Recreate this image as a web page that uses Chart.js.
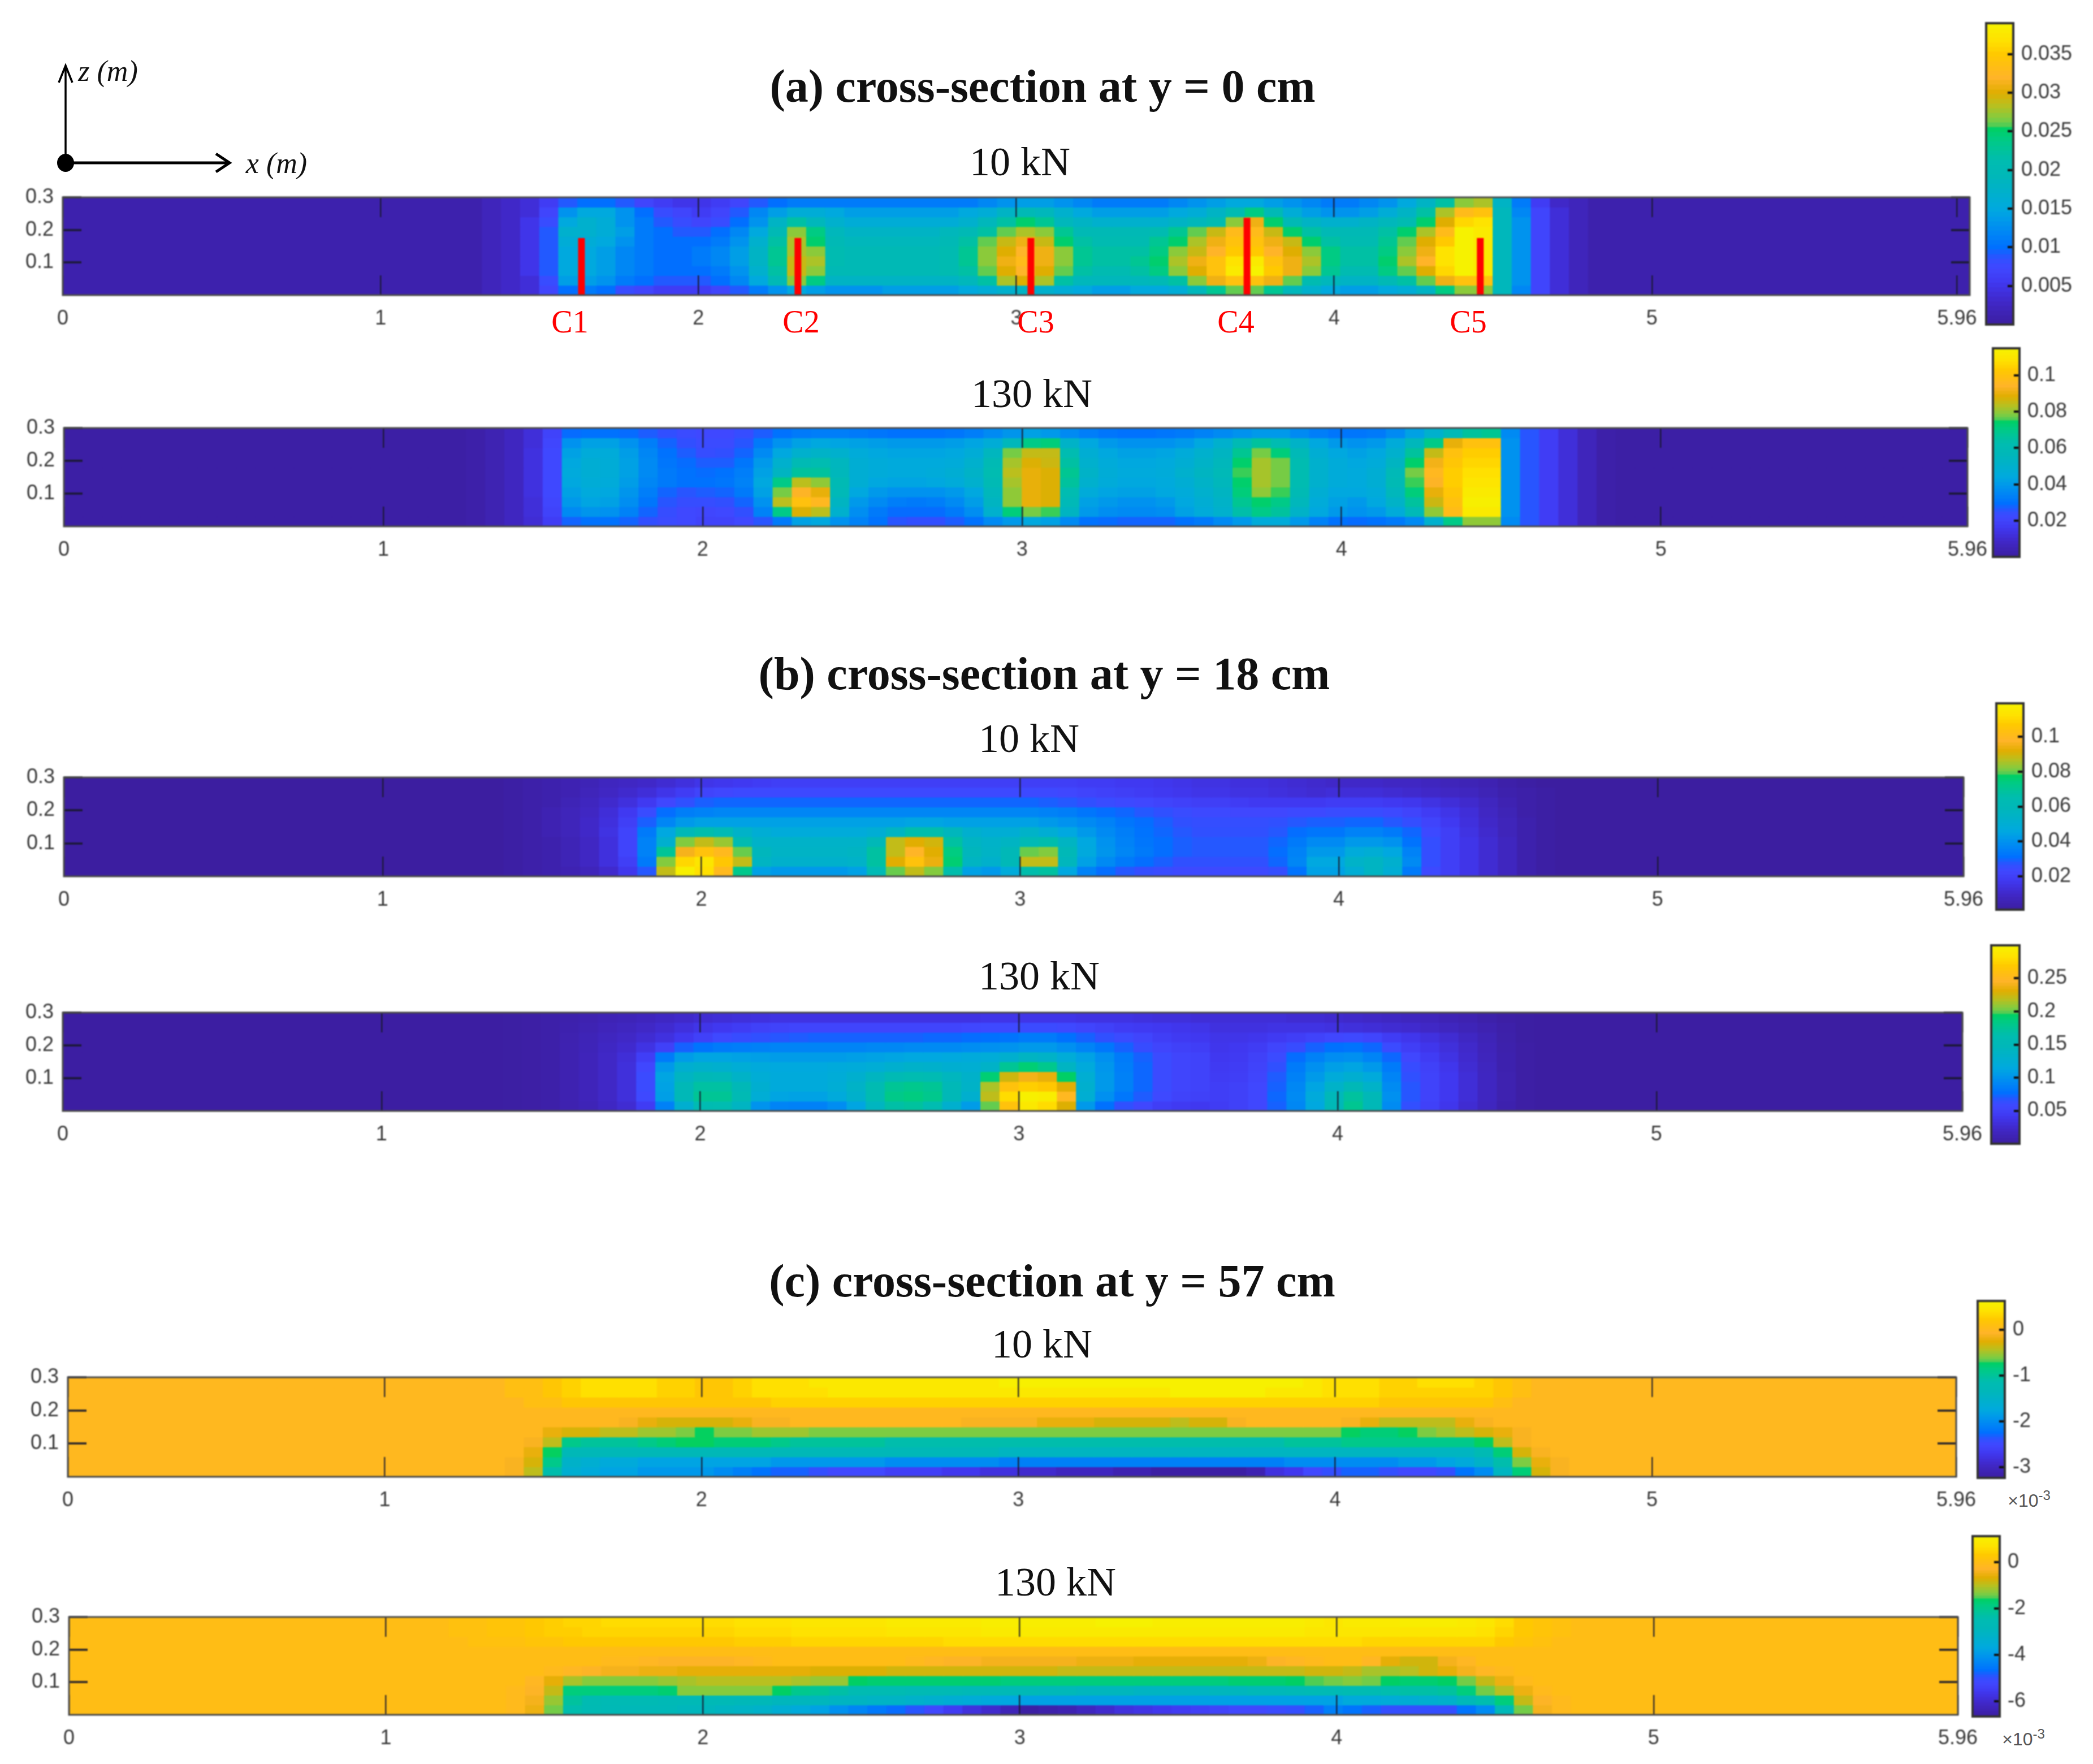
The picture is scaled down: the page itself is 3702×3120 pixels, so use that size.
<!DOCTYPE html>
<html><head><meta charset="utf-8">
<style>
html,body{margin:0;padding:0;background:#fff;width:3702px;height:3120px;overflow:hidden}
canvas{position:absolute;display:block;filter:blur(1.2px)}
.t{position:absolute;transform:translate(-50%,-50%);white-space:nowrap;font-family:"Liberation Serif",serif;color:#111}
.h{font-weight:bold;font-size:82px}
.s{font-size:72px}
.c{font-size:56px;color:#f00}
.i{font-size:52px;font-style:italic}
.e{font-family:"Liberation Sans",sans-serif;font-size:32px;color:#555}
.e sup{font-size:24px}
svg{position:absolute;left:0;top:0}
</style>
<script src="https://cdn.jsdelivr.net/npm/chart.js@4"></script>
</head><body>
<svg width="500" height="340" viewBox="0 0 500 340">
<path d="M116 288V118M104 146L116 116L128 146" fill="none" stroke="#000" stroke-width="3.5"/>
<path d="M116 288H404M382 272L406 288L382 304" fill="none" stroke="#000" stroke-width="5"/>
<ellipse cx="116" cy="288" rx="15" ry="16" fill="#000"/>
</svg>
<script>
// Titles and labels
const sectionTitles = ["(a) cross-section at y = 0 cm","(b) cross-section at y = 18 cm","(c) cross-section at y = 57 cm"];
const loadTitles = ["10 kN","130 kN","10 kN","130 kN","10 kN","130 kN"];
const xTicks = [0,1,2,3,4,5,5.96];
const xTickLabels = ["0","1","2","3","4","5","5.96"];
const zTicks = [0.1,0.2,0.3];
const zTickLabels = ["0.1","0.2","0.3"];
// Cracks drawn on the first panel (position in m, top in m)
const crackNames = ["C1","C2","C3","C4","C5"];
const crackX = [1.632,2.313,3.046,3.726,4.46];
const crackTop = [0.175,0.175,0.175,0.237,0.175];
// Colour bars
const cbA10Ticks=[5,10,15,20,25,30,35], cbA10Labels=["0.005","0.01","0.015","0.02","0.025","0.03","0.035"];
const cbA130Ticks=[20,40,60,80,100], cbA130Labels=["0.02","0.04","0.06","0.08","0.1"];
const cbB10Ticks=[20,40,60,80,100], cbB10Labels=["0.02","0.04","0.06","0.08","0.1"];
const cbB130Ticks=[50,100,150,200,250], cbB130Labels=["0.05","0.1","0.15","0.2","0.25"];
const cbC10Ticks=[-30,-20,-10,0], cbC10Labels=["-3","-2","-1","0"];
const cbC130Ticks=[-60,-40,-20,0], cbC130Labels=["-6","-4","-2","0"];
// Grid: 10 rows of 0.03 m from the top; stored columns from x = 1.20 m in 0.06 m steps
// a, b panels in 1e-3, c panels in 1e-4
const a10=[
[1,1,2,3,4,6,9,10,10,9,7,6,5,5,6,7,9,10,11,11,11,11,11,11,11,11,11,11,12,13,14,14,13,12,11,11,11,11,12,13,14,15,15,14,13,12,11,11,12,13,15,18,22,27,28,18,11,6,3,2,1,1],
[1,1,2,3,4,7,13,15,15,13,10,8,7,6,7,9,12,14,16,16,15,14,14,14,14,14,14,15,16,18,20,19,17,15,14,14,14,14,15,16,18,21,24,20,16,14,13,13,14,16,18,22,28,33,34,19,12,7,4,2,1,1],
[1,1,2,3,5,8,15,17,16,13,11,9,8,7,8,10,13,18,22,19,17,16,16,16,16,16,16,17,19,22,25,23,19,18,17,17,17,17,18,19,21,27,31,25,20,18,17,17,18,19,21,25,30,36,37,19,13,7,4,2,1,1],
[1,1,2,3,5,9,17,17,16,14,11,10,9,9,10,12,15,20,27,24,19,18,18,18,18,18,19,20,22,26,28,27,23,20,20,20,20,21,23,26,29,33,33,29,25,22,20,20,20,22,25,28,33,39,38,19,13,7,4,2,1,1],
[1,1,2,3,5,9,16,16,15,13,11,10,10,10,11,13,17,22,28,25,20,19,19,19,19,19,20,22,26,29,31,29,25,22,21,21,21,23,25,28,31,34,34,31,29,25,22,21,21,23,26,30,35,39,38,19,13,7,4,2,1,1],
[1,1,2,3,5,9,15,15,14,12,11,10,10,11,12,14,18,23,28,27,21,20,20,20,20,20,21,23,27,30,32,31,27,23,22,22,22,24,27,29,32,35,35,32,30,27,24,22,22,24,27,31,37,39,38,19,13,7,4,2,1,1],
[1,1,2,3,5,9,15,15,14,12,11,10,10,11,12,14,18,23,29,28,21,20,20,20,20,20,21,23,27,31,33,31,27,23,22,22,23,25,28,31,34,37,38,34,31,28,24,22,22,25,28,32,37,39,38,19,13,7,4,2,1,1],
[1,1,2,3,5,9,15,15,14,12,11,10,10,10,11,13,17,22,29,27,20,20,20,20,20,20,21,22,26,30,32,30,26,22,21,21,22,24,27,30,34,38,39,35,31,27,23,21,21,24,26,30,36,39,38,19,13,7,4,2,1,1],
[1,1,2,3,4,8,14,14,13,11,10,9,9,9,10,12,15,20,27,24,18,18,18,18,18,18,18,19,22,28,30,28,22,19,19,19,19,20,22,27,31,34,34,31,26,21,19,18,18,20,22,26,31,34,34,19,13,7,4,2,1,1],
[1,1,2,3,4,7,10,11,10,8,7,6,6,6,7,9,11,13,15,14,13,13,13,14,14,14,14,15,16,17,18,17,16,15,14,14,15,15,16,19,23,26,26,23,19,17,15,14,14,15,16,18,24,27,27,19,12,7,4,2,1,1]];
const a130=[
[1,2,4,7,12,20,29,30,30,29,27,25,23,22,22,24,27,30,32,33,33,32,31,30,30,30,31,33,36,39,42,40,36,33,31,30,30,31,32,34,36,38,40,40,36,33,31,31,32,36,42,50,58,66,68,36,26,18,12,6,2,1],
[1,2,4,7,12,21,38,42,42,38,33,28,25,23,23,26,32,38,42,44,43,42,41,40,40,40,41,43,47,56,70,72,52,44,40,38,38,38,40,44,50,60,66,62,52,44,40,38,40,46,56,70,90,100,100,38,26,18,12,6,2,1],
[1,2,4,7,13,22,42,46,46,41,35,30,27,24,25,28,36,44,50,52,50,46,44,43,43,43,44,47,55,78,85,85,62,48,44,42,42,43,46,50,54,68,78,72,58,48,44,42,44,50,66,85,100,104,104,38,26,18,12,6,2,1],
[1,2,4,7,13,22,44,48,47,42,36,31,29,27,27,31,40,50,60,62,55,48,46,45,45,45,46,50,60,82,88,86,65,50,46,44,44,45,48,52,56,74,82,78,62,50,46,44,46,54,74,92,102,106,106,38,26,18,12,6,2,1],
[1,2,4,7,13,22,45,48,47,42,36,32,30,29,30,33,42,54,66,66,56,48,46,45,45,46,48,52,62,84,90,88,68,52,47,45,45,46,50,54,58,76,82,78,62,50,46,45,48,58,78,96,104,108,108,38,26,18,12,6,2,1],
[1,2,4,7,13,22,44,47,46,41,35,32,30,30,31,34,44,70,84,80,60,48,44,43,43,44,46,50,60,82,90,88,66,50,46,44,44,45,48,52,56,74,82,78,62,50,46,45,48,60,76,94,104,110,110,38,26,18,12,6,2,1],
[1,2,4,7,13,22,42,45,44,39,33,28,26,27,28,32,42,78,94,90,58,44,40,38,38,38,40,44,56,80,90,88,62,46,43,42,42,44,46,50,54,72,80,76,60,48,44,44,46,56,72,90,102,112,112,38,26,18,12,6,2,1],
[1,2,4,7,12,21,40,43,42,37,31,26,24,24,25,28,38,84,100,96,54,40,36,33,32,33,36,41,54,80,90,88,58,42,40,38,38,40,44,48,52,68,74,70,56,46,42,40,44,52,66,86,100,114,114,38,26,18,12,6,2,1],
[1,2,4,7,12,20,36,39,38,34,28,24,22,21,22,25,34,70,88,84,50,37,32,29,29,29,32,37,50,72,78,76,54,40,37,36,36,37,42,46,50,64,70,66,52,44,40,38,40,46,58,80,98,112,112,38,26,18,12,6,2,1],
[1,2,4,7,11,18,28,30,30,28,25,23,22,20,20,22,26,32,42,44,38,34,30,26,25,25,27,30,36,40,44,42,36,30,29,28,28,28,30,32,36,40,46,46,40,34,30,29,30,32,36,50,70,80,80,36,26,18,12,6,2,1]];
const b10=[
[1,1,1,2,3,4,5,6,8,9,10,12,14,16,17,18,19,20,20,20,20,20,20,20,20,20,20,20,20,20,20,20,20,19,19,18,18,17,16,15,15,14,14,13,12,11,10,10,10,9,9,8,7,6,5,3,2,1,1,1,1,1],
[1,1,1,2,3,4,5,7,9,11,13,16,19,22,23,24,24,24,24,24,24,24,24,24,24,24,24,24,24,24,24,24,23,22,21,20,19,18,17,16,16,15,15,14,13,12,13,13,13,12,11,10,9,8,6,4,3,2,1,1,1,1],
[1,1,1,2,3,4,6,8,11,14,18,23,27,29,30,30,30,30,30,30,30,30,30,30,30,30,30,30,30,30,30,29,28,27,25,24,23,22,21,20,20,19,18,18,18,18,19,19,19,18,17,15,13,11,8,5,3,2,1,1,1,1],
[1,1,1,2,3,5,7,9,13,18,25,31,35,36,37,37,37,37,37,37,37,37,37,37,37,37,37,37,37,37,37,36,35,33,31,30,28,27,25,24,24,23,23,23,24,24,25,25,25,24,22,19,16,13,9,6,3,2,1,1,1,1],
[1,1,1,2,3,5,7,10,14,20,29,37,42,44,44,44,44,44,44,44,44,44,44,44,45,45,44,44,44,44,44,42,40,38,36,33,31,29,27,26,26,26,26,27,28,29,29,30,30,28,26,22,18,14,10,7,4,2,1,1,1,1],
[1,1,1,2,3,5,7,10,15,22,34,46,60,66,62,54,50,48,48,48,48,48,50,56,66,66,58,52,50,50,54,50,46,42,38,35,32,30,28,27,27,27,27,28,31,33,33,36,36,34,30,24,20,15,11,7,4,2,1,1,1,1],
[1,1,1,2,3,4,6,9,14,22,36,52,82,88,84,64,54,54,54,54,54,54,60,88,92,90,68,56,54,56,62,66,56,46,40,36,33,31,29,28,28,28,28,30,34,38,38,42,42,40,32,26,20,16,12,8,4,2,1,1,1,1],
[1,1,1,2,3,4,6,9,14,22,36,70,96,104,100,80,58,55,55,55,55,56,68,88,98,92,74,58,55,60,80,82,60,47,41,37,34,31,29,28,28,28,28,31,36,42,42,48,50,46,36,26,20,16,12,8,4,2,1,1,1,1],
[1,1,1,2,3,4,6,9,14,20,34,82,110,114,106,88,56,53,53,53,53,54,68,92,104,94,76,56,53,60,88,88,58,44,38,34,31,29,27,27,27,27,27,30,37,46,46,54,56,52,38,26,20,16,12,8,4,2,1,1,1,1],
[1,1,1,2,3,4,5,7,11,17,28,88,118,112,100,72,44,42,42,42,42,44,62,80,88,82,66,44,42,48,66,68,46,36,31,28,26,25,24,24,24,24,24,26,32,44,44,50,56,50,34,24,20,16,12,8,4,2,1,1,1,1]];
const b130=[
[1,1,1,2,3,5,7,9,12,14,17,20,24,28,30,32,34,36,36,36,36,36,36,36,36,36,36,36,38,38,38,38,38,36,36,36,34,32,32,30,30,30,30,30,28,28,26,24,22,20,18,16,12,10,6,3,2,1,1,1,1,1],
[1,1,1,2,3,5,8,11,15,18,22,27,33,38,42,46,50,52,54,54,54,54,54,54,54,54,54,56,58,58,60,60,58,54,50,46,44,42,40,38,34,34,34,36,36,36,34,32,30,28,26,22,18,14,10,5,2,1,1,1,1,1],
[1,1,1,2,3,5,9,13,18,22,28,34,42,50,58,62,66,68,70,72,72,72,72,72,72,74,74,76,78,80,84,84,78,72,66,60,54,48,44,42,38,38,40,44,48,52,56,58,54,46,40,34,28,20,13,6,2,1,1,1,1,1],
[1,1,1,2,3,5,10,14,20,26,36,50,72,80,84,86,88,90,90,90,90,90,92,92,94,94,94,96,98,100,104,104,98,90,82,72,62,54,50,48,40,42,46,54,62,72,78,80,74,60,48,40,32,24,15,7,3,1,1,1,1,1],
[1,1,1,2,3,5,10,15,22,30,48,84,106,112,112,110,108,106,106,106,106,108,110,112,114,114,116,118,122,130,140,136,122,110,98,84,72,60,54,52,42,44,50,60,76,88,96,98,90,74,56,46,36,26,16,8,3,1,1,1,1,1],
[1,1,1,2,3,5,10,15,22,32,56,104,128,132,130,124,118,116,116,116,118,120,124,130,134,132,128,126,136,176,190,180,140,118,102,86,74,60,54,52,44,46,52,66,84,98,108,112,104,84,62,50,40,28,18,8,3,1,1,1,1,1],
[1,1,1,2,3,5,10,15,22,32,60,112,140,150,148,136,124,118,118,118,122,130,142,156,162,158,144,134,190,225,240,235,195,126,104,88,74,60,54,52,46,48,54,70,88,105,120,128,118,90,66,52,42,30,19,9,3,1,1,1,1,1],
[1,1,1,2,3,5,10,15,22,32,60,110,150,170,170,150,128,118,118,118,124,136,160,176,180,176,150,136,215,262,272,268,232,130,104,88,74,60,54,52,48,50,56,72,92,112,135,150,135,95,68,52,42,30,19,9,3,1,1,1,1,1],
[1,1,1,2,3,5,10,15,22,32,58,108,150,176,176,156,124,112,110,110,118,132,160,182,186,180,150,130,220,280,298,295,250,126,98,82,70,58,52,50,48,50,56,74,94,118,148,172,150,98,68,52,42,30,19,9,3,1,1,1,1,1],
[1,1,1,2,3,5,9,13,20,28,46,88,128,160,162,140,100,90,88,88,96,112,142,168,172,162,130,106,200,262,290,280,230,104,78,66,56,48,44,42,46,50,56,72,92,115,150,178,150,95,65,50,40,28,18,8,3,1,1,1,1,1]];
const c10=[
[0,0,0,1,1,2,3,4,4,4,4,3,3,2,2,3,4,4,4,5,5,5,5,5,5,5,5,5,5,6,6,6,6,6,6,6,6,6,6,6,6,6,6,6,6,5,4,4,4,3,3,4,4,4,3,2,1,0,0,0,0,0],
[0,0,0,1,1,2,3,4,4,4,4,3,3,2,2,3,4,4,4,4,5,5,5,5,5,5,5,5,5,5,5,5,5,5,5,5,5,5,6,6,6,6,6,5,5,5,4,4,4,3,3,3,3,3,3,2,1,0,0,0,0,0],
[0,0,0,0,1,1,2,2,2,2,2,2,2,2,2,2,2,3,3,3,3,3,3,3,3,3,3,3,3,3,3,3,3,3,3,3,3,3,3,3,3,3,3,3,3,3,3,3,3,2,2,2,2,2,2,1,0,0,0,0,0,0],
[0,0,0,0,0,0,0,0,0,0,0,0,0,0,0,0,0,0,0,0,0,0,0,0,0,0,0,0,0,0,0,0,0,0,0,0,0,0,0,0,0,0,0,0,0,0,0,0,0,0,0,0,0,0,0,0,0,0,0,0,0,0],
[0,0,0,0,0,0,0,0,0,-1,-2,-3,-3,-3,-3,-2,-1,-1,0,0,0,0,0,0,0,0,0,-1,-1,-1,-1,-2,-2,-2,-3,-3,-3,-3,-4,-3,-3,-1,0,0,0,0,0,-1,-2,-4,-4,-4,-4,-2,-1,0,0,0,0,0,0,0],
[0,0,0,0,0,-2,-3,-3,-4,-4,-5,-5,-6,-7,-6,-6,-5,-5,-5,-6,-6,-6,-6,-6,-6,-6,-6,-6,-6,-6,-6,-6,-6,-6,-6,-6,-6,-6,-6,-6,-6,-6,-6,-6,-6,-6,-6,-7,-8,-8,-7,-6,-5,-4,-3,-2,-1,0,0,0,0,0],
[0,0,0,0,-1,-4,-9,-10,-10,-10,-9,-8,-7,-7,-8,-8,-8,-9,-10,-10,-10,-10,-10,-11,-11,-11,-11,-11,-11,-11,-11,-11,-11,-11,-11,-11,-11,-11,-11,-11,-11,-11,-11,-11,-10,-10,-10,-9,-9,-9,-9,-9,-9,-9,-7,-4,-1,0,0,0,0,0],
[0,0,0,0,-2,-7,-13,-13,-13,-13,-13,-13,-13,-13,-13,-13,-13,-13,-13,-13,-13,-13,-13,-13,-13,-13,-13,-13,-13,-14,-14,-14,-14,-14,-14,-14,-14,-14,-14,-14,-14,-14,-14,-14,-14,-14,-14,-14,-14,-14,-14,-14,-14,-14,-12,-8,-3,-1,0,0,0,0],
[0,0,0,-1,-3,-9,-15,-16,-17,-17,-18,-18,-18,-18,-18,-18,-18,-19,-19,-19,-19,-19,-19,-20,-20,-20,-20,-20,-20,-21,-21,-21,-21,-21,-21,-21,-21,-21,-21,-21,-21,-21,-21,-21,-20,-20,-20,-20,-20,-20,-19,-19,-18,-17,-15,-11,-6,-2,-1,0,0,0],
[0,0,0,-1,-4,-11,-16,-17,-18,-18,-19,-19,-19,-19,-20,-21,-22,-23,-23,-24,-25,-25,-25,-26,-26,-26,-27,-27,-28,-28,-29,-29,-30,-30,-30,-31,-31,-32,-32,-32,-32,-32,-31,-28,-27,-25,-24,-23,-23,-24,-25,-25,-24,-22,-20,-14,-8,-3,-1,0,0,0]];
const c130=[
[1,1,2,2,3,4,5,5,6,6,6,6,6,6,6,7,7,7,8,8,8,8,8,9,9,9,9,9,10,10,10,10,10,10,11,11,11,10,10,10,10,10,10,10,10,9,8,9,9,9,10,10,10,9,8,6,3,2,1,0,0,0],
[1,1,2,2,3,4,4,5,5,5,5,5,5,5,5,6,6,6,7,7,7,7,7,8,8,8,8,8,9,9,9,9,9,9,9,9,9,9,9,9,9,9,9,9,9,8,8,8,8,8,8,8,8,8,7,5,3,2,1,0,0,0],
[0,1,1,1,2,2,3,3,3,3,3,3,3,3,3,4,4,4,5,5,5,5,5,5,5,5,6,6,6,6,6,6,6,6,6,6,6,6,6,6,6,6,6,6,6,6,6,6,5,5,5,5,5,5,5,3,2,1,0,0,0,0],
[0,0,0,0,0,0,0,0,0,0,0,0,0,0,0,0,0,0,0,0,0,0,0,0,0,0,0,0,0,0,0,0,0,0,0,0,0,0,0,0,0,0,0,0,0,0,0,0,0,0,0,0,0,0,0,0,0,0,0,0,0,0],
[0,0,0,0,0,0,0,0,-1,-1,-2,-3,-3,-3,-3,-2,-1,0,0,0,0,0,0,0,-1,-2,-3,-3,-4,-4,-4,-4,-4,-5,-5,-5,-6,-6,-6,-6,-6,-6,-5,-3,-2,-1,0,0,-2,-6,-8,-8,-4,-2,0,0,0,0,0,0,0,0],
[0,0,0,0,0,-1,-2,-3,-4,-4,-5,-5,-6,-6,-6,-6,-6,-6,-6,-7,-7,-7,-7,-8,-8,-8,-8,-8,-8,-8,-8,-8,-9,-9,-9,-9,-9,-9,-9,-9,-9,-9,-9,-9,-9,-8,-8,-9,-11,-11,-10,-8,-6,-4,-2,-1,0,0,0,0,0,0],
[0,0,0,0,-2,-6,-11,-13,-13,-13,-13,-12,-11,-10,-10,-10,-10,-10,-11,-12,-12,-16,-17,-17,-17,-17,-17,-17,-17,-18,-18,-18,-18,-18,-18,-18,-18,-18,-18,-18,-18,-17,-17,-17,-16,-15,-14,-13,-14,-16,-17,-17,-16,-14,-9,-5,-1,0,0,0,0,0],
[0,0,0,-1,-3,-9,-18,-18,-18,-18,-18,-17,-13,-13,-13,-13,-13,-16,-20,-21,-23,-25,-25,-25,-26,-26,-26,-27,-27,-27,-27,-28,-28,-29,-29,-29,-30,-30,-30,-30,-29,-29,-28,-28,-27,-26,-26,-25,-25,-24,-23,-23,-22,-18,-14,-10,-5,-1,0,0,0,0],
[0,0,0,-1,-4,-12,-22,-25,-26,-26,-26,-27,-27,-27,-27,-28,-28,-29,-29,-29,-30,-30,-31,-31,-32,-33,-34,-35,-36,-37,-38,-38,-38,-38,-38,-38,-38,-38,-38,-38,-38,-38,-38,-38,-38,-38,-38,-36,-36,-35,-34,-33,-32,-28,-24,-18,-9,-3,-1,0,0,0],
[0,0,0,-1,-5,-14,-24,-26,-27,-28,-28,-28,-29,-29,-30,-31,-32,-34,-36,-38,-41,-43,-45,-47,-49,-52,-55,-58,-60,-63,-66,-65,-64,-62,-60,-58,-57,-56,-55,-54,-53,-52,-52,-51,-50,-48,-44,-46,-48,-50,-50,-50,-50,-46,-42,-28,-14,-4,-1,0,0,0]];

// Colour map: fraction and rgb
const mapT=[0,.077,.14,.19,.22,.257,.327,.38,.496,.545,.62,.655,.665,.684,.727,.77,.82,.896,.94,1];
const mapRGB=[[60,30,160],[64,40,200],[64,56,240],[64,72,255],[48,80,255],[0,112,255],[0,144,240],[0,168,224],[0,184,184],[0,188,176],[0,204,128],[0,208,96],[96,204,80],[128,204,64],[184,192,32],[224,174,0],[255,180,40],[255,200,0],[255,224,0],[246,242,0]];
function colorOf(v,lo,hi){
  const t=Math.max(0,Math.min(1,(v-lo)/(hi-lo)));
  let i=0; while(i<mapT.length-2&&t>mapT[i+1])i++;
  const f=(t-mapT[i])/(mapT[i+1]-mapT[i]);
  const c=mapRGB[i].map((a,j)=>Math.round(a+(mapRGB[i+1][j]-a)*f));
  return `rgb(${c[0]},${c[1]},${c[2]})`;
}
const frame={id:'frame',afterDraw(ch,_,o){const a=ch.chartArea,x=ch.ctx;x.save();x.strokeStyle=o.color||'#444';x.lineWidth=o.width||3;x.strokeRect(a.left,a.top,a.right-a.left,a.bottom-a.top);x.restore();}};
Chart.defaults.font.family='"Liberation Sans",sans-serif';
function place(l,t,w,h){const c=document.createElement('canvas');c.width=w;c.height=h;c.style.left=l+'px';c.style.top=t+'px';c.style.width=w+'px';c.style.height=h+'px';document.body.appendChild(c);return c;}
const zeroPad=s=>{s.paddingLeft=s.paddingRight=s.paddingTop=s.paddingBottom=0;};
const tickC='rgba(25,25,45,.85)', textC='#3a3a3a', FS=36;
function panel(rows,bg,lo,hi,box,xMax,extra){
  const ML=100,MR=60,MT=30,MB=80,DX=.06,START=20,NC=100,DZ=.03;
  const cv=place(box.l-ML,box.t-MT,box.r-box.l+ML+MR,box.b-box.t+MT+MB);
  const sets=(extra||[]).slice();
  rows.forEach((row,r)=>{
    const data=[],colors=[];
    for(let k=0;k<NC;k++){
      const s=k-START, v=(s>=0&&s<row.length)?row[s]:bg;
      data.push({x:(k+.5)*DX,y:[.3-(r+1)*DZ,.3-r*DZ]});
      colors.push(colorOf(v,lo,hi));
    }
    sets.push({type:'bar',data,backgroundColor:colors,grouped:false,barPercentage:1,categoryPercentage:1,inflateAmount:.6,borderWidth:0,xAxisID:'x',yAxisID:'y'});
  });
  const xs=(id,pos,lab)=>({type:'linear',position:pos,min:0,max:xMax,offset:false,
    grid:{offset:false,drawOnChartArea:false,drawTicks:true,tickLength:-35,color:tickC,lineWidth:2.5,z:1},
    border:{display:false},
    ticks:{display:lab,autoSkip:false,maxRotation:0,minRotation:0,padding:35+20,color:textC,font:{size:FS},callback:v=>{const i=xTicks.indexOf(v);return i<0?'':xTickLabels[i];}},
    afterBuildTicks:s=>{s.ticks=xTicks.map(v=>({value:v}));},
    afterFit:s=>{s.height=pos==='top'?MT:MB;zeroPad(s);}});
  const ys=(pos,lab)=>({type:'linear',position:pos,min:0,max:.3,offset:false,
    grid:{offset:false,drawOnChartArea:false,drawTicks:true,tickLength:-33,color:tickC,lineWidth:4,z:1},
    border:{display:false},
    ticks:{display:lab,autoSkip:false,padding:33+16,color:textC,font:{size:FS},callback:v=>{const i=zTicks.indexOf(v);return i<0?'':zTickLabels[i];}},
    afterBuildTicks:s=>{s.ticks=zTicks.map(v=>({value:v}));},
    afterFit:s=>{s.width=pos==='left'?ML:MR;zeroPad(s);}});
  new Chart(cv,{type:'bar',data:{datasets:sets},plugins:[frame],options:{responsive:false,animation:false,devicePixelRatio:1,
    events:[],layout:{padding:0},
    plugins:{legend:{display:false},tooltip:{enabled:false},frame:{color:'#4a4a4a',width:3}},
    scales:{x:xs('x','bottom',true),x2:xs('x2','top',false),y:ys('left',true),y2:ys('right',false)}}});
}
function colorbar(lo,hi,ticks,labels,box){
  const MR=130,P=6,N=64;
  const cv=place(box.l-P,box.t-P,box.r-box.l+P+MR,box.b-box.t+2*P);
  const data=[],colors=[];
  for(let i=0;i<N;i++){const v=lo+(i+.5)*(hi-lo)/N;data.push({x:1,y:v});colors.push(colorOf(v,lo,hi));}
  new Chart(cv,{type:'bar',data:{datasets:[{data,backgroundColor:colors,barPercentage:1,categoryPercentage:1,inflateAmount:.6,borderWidth:0}]},plugins:[frame],
    options:{indexAxis:'y',responsive:false,animation:false,devicePixelRatio:1,events:[],layout:{padding:{left:P,top:P,bottom:P,right:0}},
    plugins:{legend:{display:false},tooltip:{enabled:false},frame:{color:'#333',width:4}},
    scales:{x:{type:'linear',min:0,max:1,display:false},
      y:{type:'linear',position:'right',min:lo,max:hi,offset:false,
        grid:{offset:false,drawOnChartArea:false,drawTicks:true,tickLength:-10,color:'#111',lineWidth:4,z:1},border:{display:false},
        ticks:{autoSkip:false,padding:10+14,color:textC,font:{size:FS},callback:v=>{const i=ticks.indexOf(v);return i<0?'':labels[i];}},
        afterBuildTicks:s=>{s.ticks=ticks.map(v=>({value:v}));},afterFit:s=>{s.width=MR;zeroPad(s);}}}}});
}
// Cracks as thick lines in the first panel
const crackSets=crackX.map((x,i)=>({type:'line',order:-1,data:[{x,y:0},{x,y:crackTop[i]}],borderColor:'#f00',borderWidth:12,borderCapStyle:'butt',pointRadius:0,xAxisID:'x',yAxisID:'y'}));

panel(a10,1,0,39,{l:111,t:349,r:3484,b:522},6.0,crackSets);
panel(a130,1,0,115,{l:113,t:757,r:3480,b:931},5.96);
panel(b10,1,1,119,{l:113,t:1375,r:3473,b:1550},5.96);
panel(b130,1,0,300,{l:111,t:1791,r:3471,b:1965},5.96);
panel(c10,0,-32.3,6.3,{l:120,t:2436,r:3460,b:2612},5.96);
panel(c130,0,-66.6,11.2,{l:122,t:2860,r:3463,b:3033},5.96);

colorbar(0,39,cbA10Ticks,cbA10Labels,{l:3513,t:41,r:3561,b:574});
colorbar(0,115,cbA130Ticks,cbA130Labels,{l:3525,t:616,r:3572,b:985});
colorbar(1,119,cbB10Ticks,cbB10Labels,{l:3531,t:1244,r:3579,b:1609});
colorbar(0,300,cbB130Ticks,cbB130Labels,{l:3522,t:1672,r:3572,b:2023});
colorbar(-32.3,6.3,cbC10Ticks,cbC10Labels,{l:3498,t:2301,r:3546,b:2614});
colorbar(-66.6,11.2,cbC130Ticks,cbC130Labels,{l:3489,t:2717,r:3537,b:3036});

function text(cls,html,x,y){const d=document.createElement('div');d.className='t '+cls;d.innerHTML=html;d.style.left=x+'px';d.style.top=y+'px';document.body.appendChild(d);}
[[1844,153],[1847,1192],[1861,2266]].forEach((p,i)=>text('h',sectionTitles[i],p[0],p[1]));
[[1804,286],[1825,696],[1820,1306],[1838,1726],[1843,2377],[1867,2798]].forEach((p,i)=>text('s',loadTitles[i],p[0],p[1]));
[1008,1417,1832,2186,2597].forEach((x,i)=>text('c',crackNames[i],x,569));
text('i','z (m)',191,125);
text('i','x (m)',489,288);
text('e','×10<sup>-3</sup>',3589,2652);
text('e','×10<sup>-3</sup>',3579,3074);
</script>
</body></html>
